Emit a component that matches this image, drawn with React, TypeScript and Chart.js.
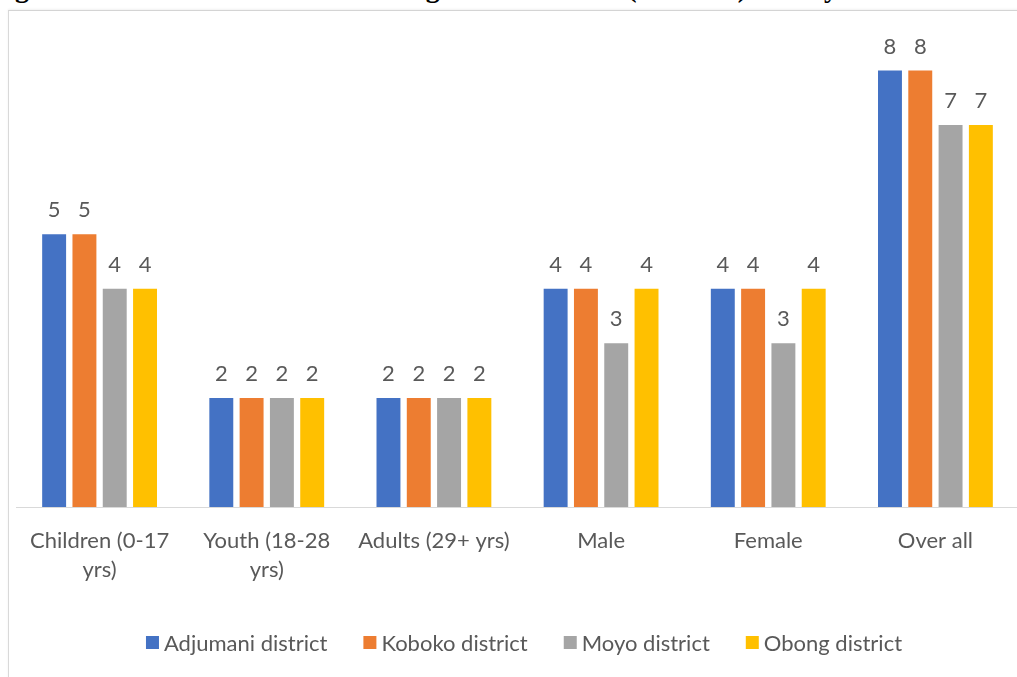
import React, { useEffect, useRef } from "react";
import { Chart, registerables } from "chart.js";

Chart.register(...registerables);

// Category labels (multi-line where the axis wraps them)
const categories: (string | string[])[] = [
  ["Children (0-17", "yrs)"],
  ["Youth (18-28", "yrs)"],
  "Adults (29+ yrs)",
  "Male",
  "Female",
  "Over all",
];

const seriesNames = ["Adjumani district", "Koboko district", "Moyo district", "Obong district"];
const adjumani = [5, 2, 2, 4, 4, 8];
const koboko = [5, 2, 2, 4, 4, 8];
const moyo = [4, 2, 2, 3, 3, 7];
const obong = [4, 2, 2, 4, 4, 7];
const seriesColors = ["#4472C4", "#ED7D31", "#A5A5A5", "#FFC000"];

const titleText = "Figure 5: Total Household size among New Nationals (Families) Surveyed";

const FONT_FAMILY = "Lato, 'Open Sans', sans-serif";
const FONT_SIZE = 22;
const TEXT_COLOR = "#595959";

// Numbers above each bar
const valueLabels = {
  id: "valueLabels",
  afterDatasetsDraw(chart: any) {
    const ctx = chart.ctx;
    ctx.save();
    ctx.font = `${FONT_SIZE}px ${FONT_FAMILY}`;
    ctx.fillStyle = TEXT_COLOR;
    ctx.textAlign = "center";
    ctx.textBaseline = "alphabetic";
    chart.data.datasets.forEach((ds: any, i: number) => {
      const meta = chart.getDatasetMeta(i);
      meta.data.forEach((bar: any, j: number) => {
        ctx.fillText(String(ds.data[j]), bar.x, bar.y - 17);
      });
    });
    ctx.restore();
  },
};

// Legend row drawn beneath the axis labels
const bottomLegend = {
  id: "bottomLegend",
  afterDraw(chart: any) {
    const ctx = chart.ctx;
    const box = 13;
    const boxGap = 5;
    const itemGap = 36;
    const centerX = 524;
    const centerY = 642.5;
    ctx.save();
    ctx.font = `${FONT_SIZE}px ${FONT_FAMILY}`;
    const widths = chart.data.datasets.map((ds: any) => ctx.measureText(ds.label).width);
    const total =
      widths.reduce((a: number, w: number) => a + box + boxGap + w, 0) + itemGap * (widths.length - 1);
    let x = centerX - total / 2;
    ctx.textBaseline = "middle";
    ctx.textAlign = "left";
    chart.data.datasets.forEach((ds: any, i: number) => {
      ctx.fillStyle = ds.backgroundColor;
      ctx.fillRect(x, centerY - box / 2, box, box);
      x += box + boxGap;
      ctx.fillStyle = TEXT_COLOR;
      ctx.fillText(ds.label, x, centerY + 1);
      x += widths[i] + itemGap;
    });
    ctx.restore();
  },
};

export default function App() {
  const canvasRef = useRef<HTMLCanvasElement | null>(null);

  useEffect(() => {
    if (!canvasRef.current) return;
    const seriesValues = [adjumani, koboko, moyo, obong];
    const chart = new Chart(canvasRef.current, {
      type: "bar",
      data: {
        labels: categories,
        datasets: seriesNames.map((name, i) => ({
          label: name,
          data: seriesValues[i],
          backgroundColor: seriesColors[i],
          borderWidth: 0,
          categoryPercentage: 0.725,
          barPercentage: 0.79,
        })),
      },
      options: {
        responsive: false,
        animation: false,
        devicePixelRatio: 1,
        layout: { padding: { top: 16, left: 16, right: 1, bottom: 74 } },
        plugins: {
          legend: { display: false },
          tooltip: { enabled: false },
          title: { display: false },
        },
        scales: {
          x: {
            grid: { display: false, drawTicks: false },
            border: { display: true, color: "#D9D9D9", width: 1 },
            ticks: {
              color: TEXT_COLOR,
              padding: 19,
              maxRotation: 0,
              autoSkip: false,
              font: { family: FONT_FAMILY, size: FONT_SIZE, lineHeight: "29px" as any },
            },
          },
          y: {
            display: false,
            min: 0,
            max: 9,
          },
        },
      },
      plugins: [valueLabels, bottomLegend],
    });
    return () => chart.destroy();
  }, []);

  return (
    <div
      style={{
        position: "fixed",
        left: 0,
        top: 0,
        width: 1017,
        height: 677,
        overflow: "hidden",
        background: "#ffffff",
      }}
    >
      <div
        style={{
          position: "absolute",
          left: 8,
          top: 10,
          width: 1100,
          height: 800,
          borderLeft: "1px solid #D9D9D9",
          borderTop: "1px solid #D4D4D4",
          boxShadow: "0 -1px 2px rgba(0,0,0,0.06)",
        }}
      />
      <div
        style={{
          position: "absolute",
          left: -10,
          top: -28,
          whiteSpace: "nowrap",
          font: "bold 28px 'Liberation Serif', serif",
          lineHeight: "32px",
          color: "#000",
        }}
      >
        {titleText}
      </div>
      <canvas
        ref={canvasRef}
        width={1020}
        height={677}
        style={{ position: "absolute", left: 0, top: 0, width: 1020, height: 677 }}
      />
    </div>
  );
}
